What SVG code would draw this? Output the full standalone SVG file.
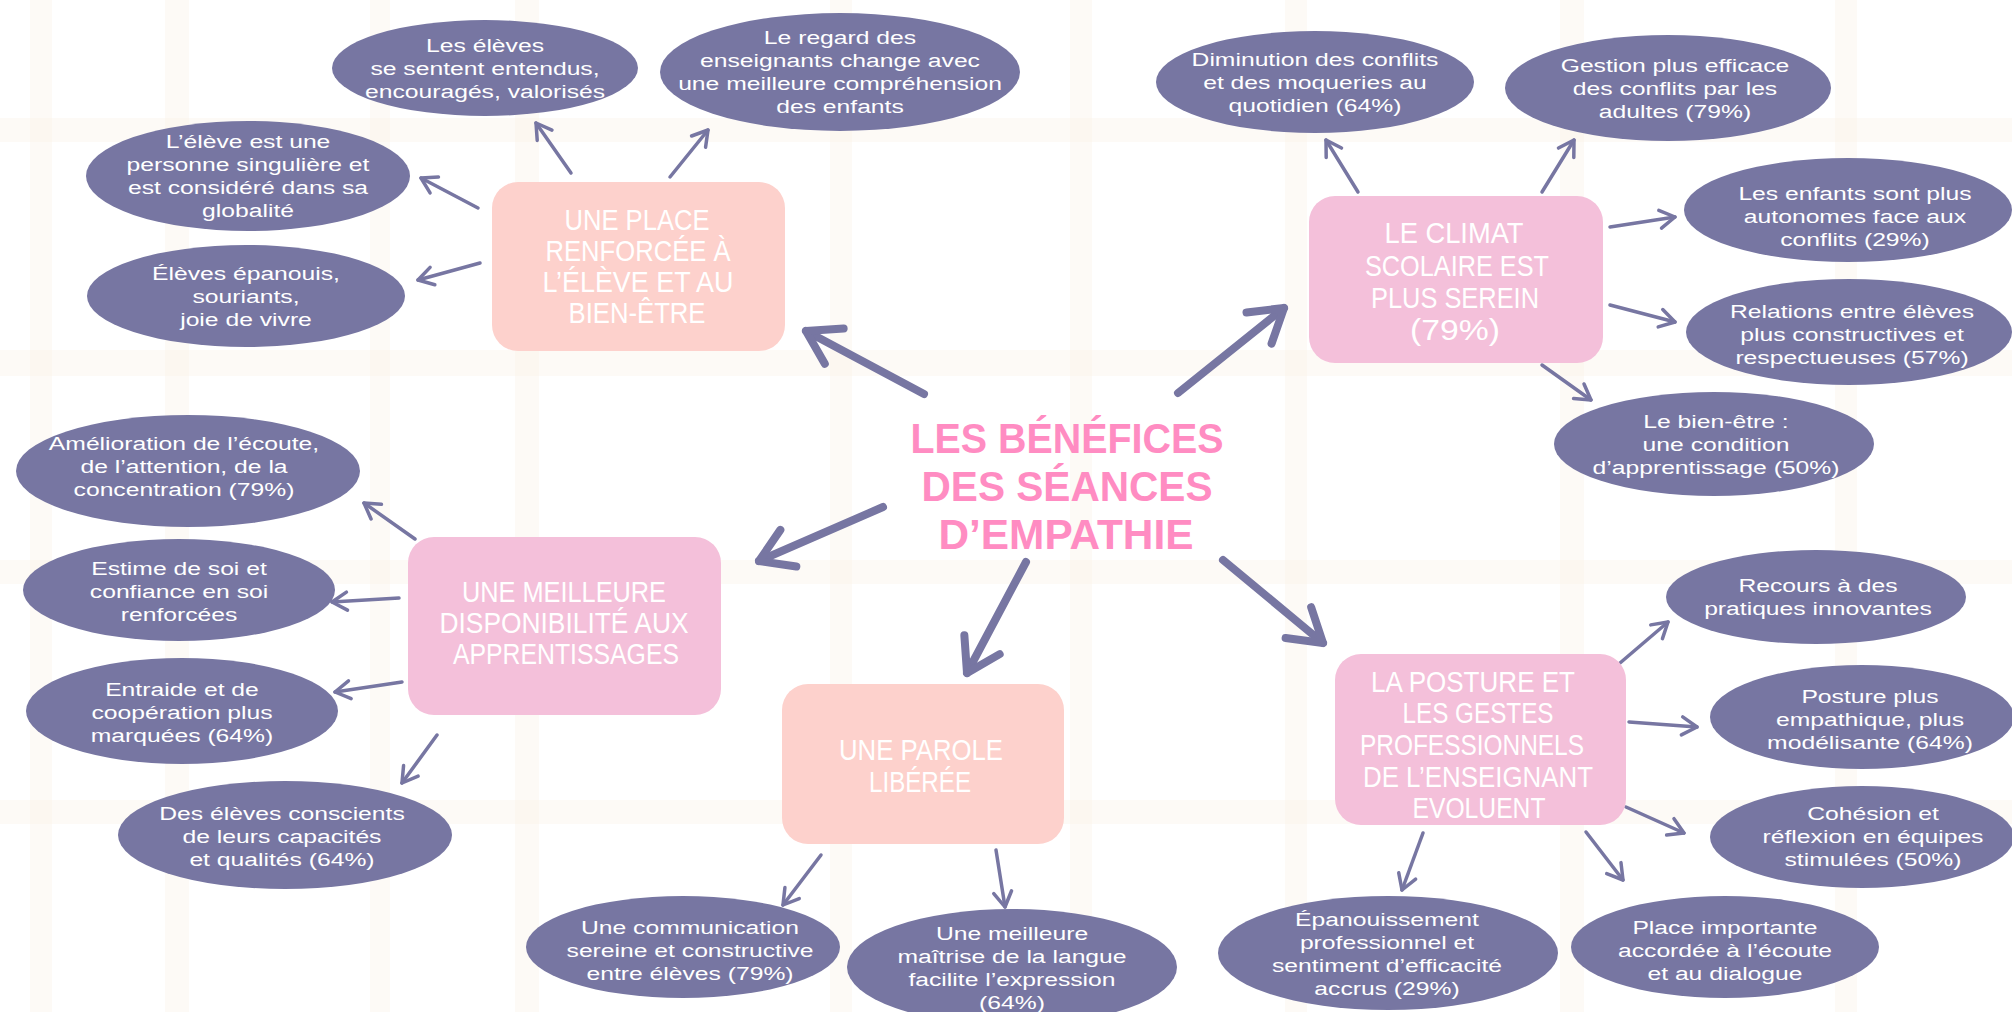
<svg xmlns="http://www.w3.org/2000/svg" width="2012" height="1012" viewBox="0 0 2012 1012">
<defs>
<style>
.bub{fill:#7776a2}
.bt{font-family:"Liberation Sans",Arial,sans-serif;font-size:19px;fill:#ffffff;text-anchor:middle}
.box1{fill:#fdd1cc}
.box2{fill:#f4c0da}
.ht{font-family:"Liberation Sans Narrow","Liberation Sans",Arial,sans-serif;font-size:29px;fill:#ffffff;text-anchor:middle}
.title{font-family:"Liberation Sans Narrow","Liberation Sans",Arial,sans-serif;font-size:43px;font-weight:bold;fill:#ff8cc2;text-anchor:middle}
.sa{stroke:#7776a2;stroke-width:3.5;fill:none;stroke-linecap:round;marker-end:url(#ah)}
.ba{stroke:#7776a2;stroke-width:8;fill:none;stroke-linecap:round;marker-end:url(#bh)}
.vb{fill:#fbf2e8;opacity:0.4}
</style>
<marker id="ah" viewBox="0 0 24 24" refX="21" refY="12" markerWidth="24" markerHeight="24" markerUnits="userSpaceOnUse" orient="auto">
<path d="M6,3 L21,12 L6,21" fill="none" stroke="#7776a2" stroke-width="3.5" stroke-linecap="round" stroke-linejoin="round"/>
</marker>
<marker id="bh" viewBox="0 0 50 50" refX="44" refY="25" markerWidth="50" markerHeight="50" markerUnits="userSpaceOnUse" orient="auto">
<path d="M12,5 L44,25 L12,45" fill="none" stroke="#7776a2" stroke-width="8" stroke-linecap="round" stroke-linejoin="round"/>
</marker>
</defs>
<rect width="2012" height="1012" fill="#ffffff"/>
<g id="background">
<rect class="vb" x="30" y="0" width="22" height="1012"/>
<rect class="vb" x="165" y="0" width="24" height="1012"/>
<rect class="vb" x="370" y="0" width="20" height="1012"/>
<rect class="vb" x="515" y="0" width="24" height="1012"/>
<rect class="vb" x="830" y="0" width="22" height="1012"/>
<rect class="vb" x="1070" y="0" width="22" height="1012"/>
<rect class="vb" x="1285" y="0" width="22" height="1012"/>
<rect class="vb" x="1560" y="0" width="24" height="1012"/>
<rect class="vb" x="1835" y="0" width="22" height="1012"/>
<rect class="vb" x="0" y="118" width="2012" height="24"/>
<rect class="vb" x="0" y="350" width="2012" height="26"/>
<rect class="vb" x="0" y="560" width="2012" height="24"/>
<rect class="vb" x="0" y="800" width="2012" height="24"/>
</g>
<g id="connectors">
<line class="ba" x1="924" y1="394" x2="806" y2="331"/>
<line class="ba" x1="1178" y1="393" x2="1284" y2="308"/>
<line class="ba" x1="883" y1="507" x2="759" y2="561"/>
<line class="ba" x1="1026" y1="562" x2="967" y2="673"/>
<line class="ba" x1="1223" y1="560" x2="1323" y2="643"/>
<line class="sa" x1="571" y1="173" x2="536" y2="123"/>
<line class="sa" x1="670" y1="177" x2="708" y2="130"/>
<line class="sa" x1="478" y1="208" x2="421" y2="178"/>
<line class="sa" x1="480" y1="263" x2="418" y2="280"/>
<line class="sa" x1="1358" y1="192" x2="1326" y2="140"/>
<line class="sa" x1="1542" y1="192" x2="1574" y2="140"/>
<line class="sa" x1="1610" y1="227" x2="1675" y2="217"/>
<line class="sa" x1="1610" y1="305" x2="1675" y2="322"/>
<line class="sa" x1="1542" y1="365" x2="1591" y2="400"/>
<line class="sa" x1="415" y1="539" x2="364" y2="503"/>
<line class="sa" x1="399" y1="598" x2="332" y2="602"/>
<line class="sa" x1="402" y1="682" x2="335" y2="692"/>
<line class="sa" x1="437" y1="735" x2="402" y2="783"/>
<line class="sa" x1="821" y1="855" x2="783" y2="905"/>
<line class="sa" x1="996" y1="850" x2="1005" y2="907"/>
<line class="sa" x1="1620" y1="663" x2="1668" y2="622"/>
<line class="sa" x1="1629" y1="722" x2="1697" y2="727"/>
<line class="sa" x1="1626" y1="807" x2="1684" y2="833"/>
<line class="sa" x1="1423" y1="833" x2="1402" y2="890"/>
<line class="sa" x1="1586" y1="832" x2="1623" y2="880"/>
</g>
<g id="title">
<text class="title"><tspan x="1067" y="453" textLength="313" lengthAdjust="spacingAndGlyphs">LES BÉNÉFICES</tspan><tspan x="1067" y="501" textLength="291" lengthAdjust="spacingAndGlyphs">DES SÉANCES</tspan><tspan x="1066" y="549" textLength="255" lengthAdjust="spacingAndGlyphs">D’EMPATHIE</tspan></text>
</g>
<g id="box-place">
<rect class="box1" x="492" y="182" width="293" height="169" rx="26"/>
<text class="ht"><tspan x="637" y="230" textLength="145" lengthAdjust="spacingAndGlyphs">UNE PLACE</tspan><tspan x="638" y="261" textLength="185" lengthAdjust="spacingAndGlyphs">RENFORCÉE À</tspan><tspan x="638" y="292" textLength="191" lengthAdjust="spacingAndGlyphs">L’ÉLÈVE ET AU</tspan><tspan x="637" y="323" textLength="137" lengthAdjust="spacingAndGlyphs">BIEN-ÊTRE</tspan></text>
</g>
<g id="box-climat">
<rect class="box2" x="1309" y="196" width="294" height="167" rx="26"/>
<text class="ht"><tspan x="1454" y="243" textLength="139" lengthAdjust="spacingAndGlyphs">LE CLIMAT</tspan><tspan x="1457" y="276" textLength="184" lengthAdjust="spacingAndGlyphs">SCOLAIRE EST</tspan><tspan x="1455" y="308" textLength="168" lengthAdjust="spacingAndGlyphs">PLUS SEREIN</tspan><tspan x="1455" y="340" textLength="90" lengthAdjust="spacingAndGlyphs">(79%)</tspan></text>
</g>
<g id="box-dispo">
<rect class="box2" x="408" y="537" width="313" height="178" rx="26"/>
<text class="ht"><tspan x="564" y="602" textLength="204" lengthAdjust="spacingAndGlyphs">UNE MEILLEURE</tspan><tspan x="564" y="633" textLength="249" lengthAdjust="spacingAndGlyphs">DISPONIBILITÉ AUX</tspan><tspan x="566" y="664" textLength="226" lengthAdjust="spacingAndGlyphs">APPRENTISSAGES</tspan></text>
</g>
<g id="box-parole">
<rect class="box1" x="782" y="684" width="282" height="160" rx="26"/>
<text class="ht"><tspan x="921" y="760" textLength="164" lengthAdjust="spacingAndGlyphs">UNE PAROLE</tspan><tspan x="920" y="792" textLength="102" lengthAdjust="spacingAndGlyphs">LIBÉRÉE</tspan></text>
</g>
<g id="box-posture">
<rect class="box2" x="1335" y="654" width="291" height="171" rx="26"/>
<text class="ht"><tspan x="1473" y="692" textLength="204" lengthAdjust="spacingAndGlyphs">LA POSTURE ET</tspan><tspan x="1478" y="723" textLength="151" lengthAdjust="spacingAndGlyphs">LES GESTES</tspan><tspan x="1472" y="755" textLength="224" lengthAdjust="spacingAndGlyphs">PROFESSIONNELS</tspan><tspan x="1478" y="787" textLength="230" lengthAdjust="spacingAndGlyphs">DE L’ENSEIGNANT</tspan><tspan x="1479" y="818" textLength="133" lengthAdjust="spacingAndGlyphs">EVOLUENT</tspan></text>
</g>
<g id="n-a">
<ellipse class="bub" cx="485" cy="68" rx="153" ry="48"/>
<text class="bt" transform="translate(485,0) scale(1.3,1)"><tspan x="0" y="52">Les élèves</tspan><tspan x="0" y="75">se sentent entendus,</tspan><tspan x="0" y="98">encouragés, valorisés</tspan></text>
</g>
<g id="n-b">
<ellipse class="bub" cx="840" cy="72" rx="180" ry="59"/>
<text class="bt" transform="translate(840,0) scale(1.3,1)"><tspan x="0" y="44">Le regard des</tspan><tspan x="0" y="67">enseignants change avec</tspan><tspan x="0" y="90">une meilleure compréhension</tspan><tspan x="0" y="113">des enfants</tspan></text>
</g>
<g id="n-c">
<ellipse class="bub" cx="248" cy="176" rx="162" ry="55"/>
<text class="bt" transform="translate(248,0) scale(1.3,1)"><tspan x="0" y="148">L’élève est une</tspan><tspan x="0" y="171">personne singulière et</tspan><tspan x="0" y="194">est considéré dans sa</tspan><tspan x="0" y="217">globalité</tspan></text>
</g>
<g id="n-d">
<ellipse class="bub" cx="246" cy="296" rx="159" ry="51"/>
<text class="bt" transform="translate(246,0) scale(1.3,1)"><tspan x="0" y="280">Élèves épanouis,</tspan><tspan x="0" y="303">souriants,</tspan><tspan x="0" y="326">joie de vivre</tspan></text>
</g>
<g id="n-e">
<ellipse class="bub" cx="1315" cy="82" rx="159" ry="51"/>
<text class="bt" transform="translate(1315,0) scale(1.3,1)"><tspan x="0" y="66">Diminution des conflits</tspan><tspan x="0" y="89">et des moqueries au</tspan><tspan x="0" y="112">quotidien (64%)</tspan></text>
</g>
<g id="n-f">
<ellipse class="bub" cx="1668" cy="88" rx="163" ry="53"/>
<text class="bt" transform="translate(1675,0) scale(1.3,1)"><tspan x="0" y="72">Gestion plus efficace</tspan><tspan x="0" y="95">des conflits par les</tspan><tspan x="0" y="118">adultes (79%)</tspan></text>
</g>
<g id="n-g">
<ellipse class="bub" cx="1848" cy="210" rx="164" ry="52"/>
<text class="bt" transform="translate(1855,0) scale(1.3,1)"><tspan x="0" y="200">Les enfants sont plus</tspan><tspan x="0" y="223">autonomes face aux</tspan><tspan x="0" y="246">conflits (29%)</tspan></text>
</g>
<g id="n-h">
<ellipse class="bub" cx="1849" cy="332" rx="163" ry="53"/>
<text class="bt" transform="translate(1852,0) scale(1.3,1)"><tspan x="0" y="318">Relations entre élèves</tspan><tspan x="0" y="341">plus constructives et</tspan><tspan x="0" y="364">respectueuses (57%)</tspan></text>
</g>
<g id="n-i">
<ellipse class="bub" cx="1714" cy="444" rx="160" ry="52"/>
<text class="bt" transform="translate(1716,0) scale(1.3,1)"><tspan x="0" y="428">Le bien-être :</tspan><tspan x="0" y="451">une condition</tspan><tspan x="0" y="474">d’apprentissage (50%)</tspan></text>
</g>
<g id="n-j">
<ellipse class="bub" cx="188" cy="471" rx="172" ry="56"/>
<text class="bt" transform="translate(184,0) scale(1.3,1)"><tspan x="0" y="450">Amélioration de l’écoute,</tspan><tspan x="0" y="473">de l’attention, de la</tspan><tspan x="0" y="496">concentration (79%)</tspan></text>
</g>
<g id="n-k">
<ellipse class="bub" cx="179" cy="590" rx="156" ry="51"/>
<text class="bt" transform="translate(179,0) scale(1.3,1)"><tspan x="0" y="575">Estime de soi et</tspan><tspan x="0" y="598">confiance en soi</tspan><tspan x="0" y="621">renforcées</tspan></text>
</g>
<g id="n-l">
<ellipse class="bub" cx="182" cy="711" rx="156" ry="53"/>
<text class="bt" transform="translate(182,0) scale(1.3,1)"><tspan x="0" y="696">Entraide et de</tspan><tspan x="0" y="719">coopération plus</tspan><tspan x="0" y="742">marquées (64%)</tspan></text>
</g>
<g id="n-m">
<ellipse class="bub" cx="285" cy="835" rx="167" ry="54"/>
<text class="bt" transform="translate(282,0) scale(1.3,1)"><tspan x="0" y="820">Des élèves conscients</tspan><tspan x="0" y="843">de leurs capacités</tspan><tspan x="0" y="866">et qualités (64%)</tspan></text>
</g>
<g id="n-n">
<ellipse class="bub" cx="683" cy="947" rx="157" ry="51"/>
<text class="bt" transform="translate(690,0) scale(1.3,1)"><tspan x="0" y="934">Une communication</tspan><tspan x="0" y="957">sereine et constructive</tspan><tspan x="0" y="980">entre élèves (79%)</tspan></text>
</g>
<g id="n-o">
<ellipse class="bub" cx="1012" cy="967" rx="165" ry="58"/>
<text class="bt" transform="translate(1012,0) scale(1.3,1)"><tspan x="0" y="940">Une meilleure</tspan><tspan x="0" y="963">maîtrise de la langue</tspan><tspan x="0" y="986">facilite l’expression</tspan><tspan x="0" y="1009">(64%)</tspan></text>
</g>
<g id="n-p">
<ellipse class="bub" cx="1816" cy="597" rx="150" ry="47"/>
<text class="bt" transform="translate(1818,0) scale(1.3,1)"><tspan x="0" y="592">Recours à des</tspan><tspan x="0" y="615">pratiques innovantes</tspan></text>
</g>
<g id="n-q">
<ellipse class="bub" cx="1862" cy="717" rx="152" ry="52"/>
<text class="bt" transform="translate(1870,0) scale(1.3,1)"><tspan x="0" y="703">Posture plus</tspan><tspan x="0" y="726">empathique, plus</tspan><tspan x="0" y="749">modélisante (64%)</tspan></text>
</g>
<g id="n-r">
<ellipse class="bub" cx="1862" cy="837" rx="152" ry="51"/>
<text class="bt" transform="translate(1873,0) scale(1.3,1)"><tspan x="0" y="820">Cohésion et</tspan><tspan x="0" y="843">réflexion en équipes</tspan><tspan x="0" y="866">stimulées (50%)</tspan></text>
</g>
<g id="n-s">
<ellipse class="bub" cx="1388" cy="953" rx="170" ry="57"/>
<text class="bt" transform="translate(1387,0) scale(1.3,1)"><tspan x="0" y="926">Épanouissement</tspan><tspan x="0" y="949">professionnel et</tspan><tspan x="0" y="972">sentiment d’efficacité</tspan><tspan x="0" y="995">accrus (29%)</tspan></text>
</g>
<g id="n-t">
<ellipse class="bub" cx="1725" cy="947" rx="154" ry="51"/>
<text class="bt" transform="translate(1725,0) scale(1.3,1)"><tspan x="0" y="934">Place importante</tspan><tspan x="0" y="957">accordée à l’écoute</tspan><tspan x="0" y="980">et au dialogue</tspan></text>
</g>
</svg>
